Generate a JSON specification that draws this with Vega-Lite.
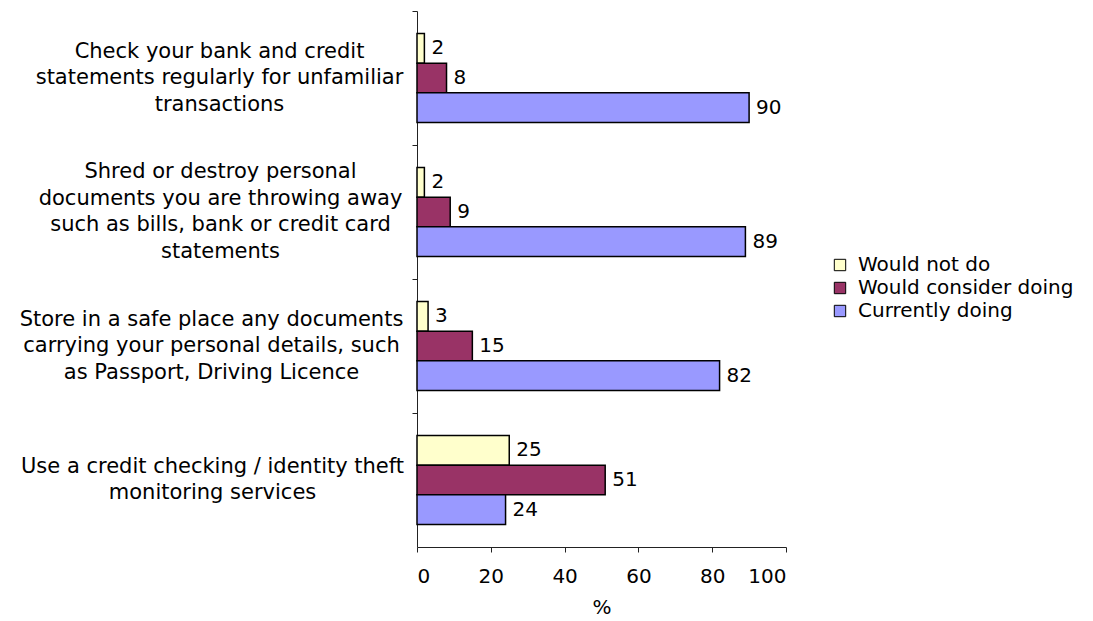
{
  "$schema": "https://vega.github.io/schema/vega-lite/v6.json",
  "autosize": {"type": "none"},
  "padding": {"left": 417, "top": 11, "right": 307, "bottom": 74},
  "width": 369,
  "height": 536,
  "background": "white",
  "config": {
    "font": "DejaVu Sans",
    "view": {"stroke": null},
    "axis": {"labelFont": "DejaVu Sans", "titleFont": "DejaVu Sans", "labelColor": "black", "titleColor": "black", "domainColor": "#222", "tickColor": "#222", "grid": false}
  },
  "data": {
    "values": [
      {"task": "Check your bank and credit|statements regularly for unfamiliar|transactions", "status": "Would not do", "value": 2},
      {"task": "Check your bank and credit|statements regularly for unfamiliar|transactions", "status": "Would consider doing", "value": 8},
      {"task": "Check your bank and credit|statements regularly for unfamiliar|transactions", "status": "Currently doing", "value": 90},
      {"task": "Shred or destroy personal|documents you are throwing away|such as bills, bank or credit card|statements", "status": "Would not do", "value": 2},
      {"task": "Shred or destroy personal|documents you are throwing away|such as bills, bank or credit card|statements", "status": "Would consider doing", "value": 9},
      {"task": "Shred or destroy personal|documents you are throwing away|such as bills, bank or credit card|statements", "status": "Currently doing", "value": 89},
      {"task": "Store in a safe place any documents|carrying your personal details, such|as Passport, Driving Licence", "status": "Would not do", "value": 3},
      {"task": "Store in a safe place any documents|carrying your personal details, such|as Passport, Driving Licence", "status": "Would consider doing", "value": 15},
      {"task": "Store in a safe place any documents|carrying your personal details, such|as Passport, Driving Licence", "status": "Currently doing", "value": 82},
      {"task": "Use a credit checking / identity theft|monitoring services", "status": "Would not do", "value": 25},
      {"task": "Use a credit checking / identity theft|monitoring services", "status": "Would consider doing", "value": 51},
      {"task": "Use a credit checking / identity theft|monitoring services", "status": "Currently doing", "value": 24}
    ]
  },
  "encoding": {
    "y": {
      "field": "task", "type": "nominal", "sort": null,
      "scale": {"paddingInner": 0, "paddingOuter": 0},
      "axis": {
        "title": null,
        "labelExpr": "split(datum.label, '|')",
        "labelAlign": "center",
        "labelPadding": {
          "condition": [
            {"test": "substring(datum.value, 0, 5) == 'Check'", "value": 193},
            {"test": "substring(datum.value, 0, 5) == 'Shred'", "value": 192},
            {"test": "substring(datum.value, 0, 5) == 'Store'", "value": 201}
          ],
          "value": 200
        },
        "labelFontSize": 21,
        "labelLineHeight": 26.5,
        "labelLimit": 500,
        "bandPosition": 0,
        "tickSize": 5,
        "labelBaseline": "middle",
        "labelOffset": {
          "condition": [
            {"test": "substring(datum.value, 0, 5) == 'Shred'", "value": -39.75},
            {"test": "substring(datum.value, 0, 3) == 'Use'", "value": -13.25}
          ],
          "value": -26.5
        }
      }
    },
    "yOffset": {"field": "status", "type": "nominal", "sort": ["Would not do", "Would consider doing", "Currently doing"], "scale": {"paddingInner": 0, "paddingOuter": 0.755}},
    "x": {
      "field": "value", "type": "quantitative",
      "scale": {"domain": [0, 100], "nice": false},
      "axis": {"title": "%", "values": [0, 20, 40, 60, 80, 100], "labelFontSize": 20, "titleFontSize": 20, "titleFontWeight": "normal", "tickSize": 5, "labelPadding": 14, "titlePadding": 11}
    }
  },
  "layer": [
    {
      "mark": {"type": "bar", "stroke": "black", "strokeWidth": 1.5, "opacity": 1},
      "encoding": {
        "color": {
          "field": "status", "type": "nominal",
          "sort": ["Would not do", "Would consider doing", "Currently doing"],
          "scale": {"domain": ["Would not do", "Would consider doing", "Currently doing"], "range": ["#FFFFCC", "#993366", "#9999FF"]},
          "legend": {
            "title": null, "orient": "none", "legendX": 413, "legendY": 244,
            "symbolType": "square", "symbolSize": 130, "symbolStrokeColor": "black", "symbolStrokeWidth": 1, "symbolOpacity": 1,
            "labelFontSize": 20, "labelFont": "DejaVu Sans", "labelColor": "black", "labelOffset": 8, "rowPadding": 3, "labelLimit": 400
          }
        }
      }
    },
    {
      "mark": {"type": "text", "align": "left", "baseline": "middle", "dx": 7, "fontSize": 20, "color": "black"},
      "encoding": {"text": {"field": "value", "type": "quantitative"}}
    }
  ]
}
